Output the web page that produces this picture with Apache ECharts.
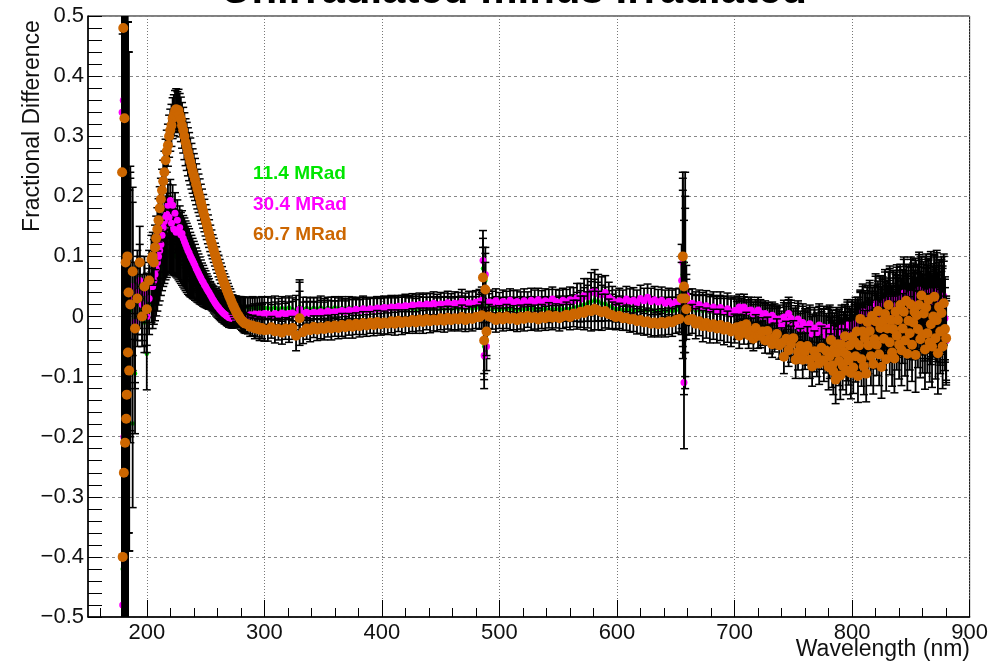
<!DOCTYPE html>
<html>
<head>
<meta charset="utf-8">
<script src="https://cdn.jsdelivr.net/npm/echarts@6/dist/echarts.min.js"></script>
<style>
html, body { margin: 0; padding: 0; background: #fff; }
#chart { width: 991px; height: 664px; }
</style>
</head>
<body>
<div id="chart"></div>
<script>
// wavelength (nm) of each measured point
const wavelength = [
  179, 179.5, 180, 180.5, 181, 181.5, 182, 182.5, 183, 183.5, 184, 184.5, 185,
  186, 188, 190, 192, 194, 196, 198, 200, 202, 204,
  205, 206, 207, 208, 209, 210, 211, 212, 213, 214,
  215, 216, 217, 218, 219, 220, 221, 222, 223, 224,
  225, 226, 227, 228, 229, 230, 231, 232, 233, 234,
  235, 236, 237, 238, 239, 240, 241, 242, 243, 244,
  245, 246, 247, 248, 249, 250, 251, 252, 253, 254,
  255, 256, 257, 258, 259, 260, 261, 262, 263, 264,
  265, 266, 267, 268, 269, 270, 271, 272, 273, 274,
  275, 276, 277, 278, 279, 280, 281, 282, 283, 284,
  286, 288, 290, 292, 294, 296, 298, 300,
  303, 306, 309, 312, 315, 318, 321, 324, 327, 330,
  333, 336, 339, 342, 345, 348, 351, 354, 357, 360,
  363, 366, 369, 372, 375, 378, 381, 384, 387, 390,
  393, 396, 399, 402, 405, 408, 411, 414, 417, 420,
  423, 426, 429, 432, 435, 438, 441, 444, 447, 450,
  453, 456, 459, 462, 465, 468, 471, 474, 477, 480,
  483, 485, 486, 487, 488, 489, 491,
  494, 497, 500, 503, 506, 509, 512, 515, 518, 521,
  524, 527, 530, 533, 536, 539, 542, 545, 548, 551,
  554, 557, 560, 563, 566, 569, 572, 575, 578, 581,
  584, 587, 590, 593, 596, 599, 602, 605, 608, 611,
  614, 617, 620, 623, 626, 629, 632, 635, 638, 641,
  644, 647, 650,
  653, 655, 656, 657, 658, 659, 661,
  664, 667, 670, 673, 676, 679, 682, 685, 688, 691, 694, 697, 700,
  702, 704, 706, 708, 710, 712, 714, 716, 718, 720,
  722, 724, 726, 728, 730, 732, 734, 736, 738, 740,
  742, 744, 746, 748, 750, 752, 754, 756, 758, 760,
  762, 764, 766, 768, 770, 772, 774, 776, 778, 780,
  781, 782, 783, 784, 785, 786, 787, 788, 789, 790,
  791, 792, 793, 794, 795, 796, 797, 798, 799, 800,
  801, 802, 803, 804, 805, 806, 807, 808, 809, 810,
  811, 812, 813, 814, 815, 816, 817, 818, 819, 820,
  821, 822, 823, 824, 825, 826, 827, 828, 829, 830,
  831, 832, 833, 834, 835, 836, 837, 838, 839, 840,
  841, 842, 843, 844, 845, 846, 847, 848, 849, 850,
  851, 852, 853, 854, 855, 856, 857, 858, 859, 860,
  861, 862, 863, 864, 865, 866, 867, 868, 869, 870,
  871, 872, 873, 874, 875, 876, 877, 878, 879, 880
];

// 11.4 MRad
const diff11 = [
  0.24, -0.42, 0.48, -0.26, 0.33, -0.21, 0.09, -0.17, -0.13, 0.10, -0.06, 0.04, -0.09,
  0.01, -0.178, -0.095, 0.02, 0.04, 0.01, -0.01, -0.062, 0.02, 0.03,
  0.02, 0.025, 0.03, 0.038, 0.045, 0.055, 0.062, 0.07, 0.078, 0.085,
  0.09, 0.096, 0.1, 0.104, 0.108, 0.11, 0.108, 0.106, 0.104, 0.102,
  0.1, 0.098, 0.096, 0.094, 0.092, 0.09, 0.087, 0.085, 0.082, 0.08,
  0.077, 0.075, 0.072, 0.07, 0.067, 0.065, 0.062, 0.06, 0.057, 0.055,
  0.052, 0.05, 0.048, 0.045, 0.043, 0.041, 0.039, 0.037, 0.035, 0.034,
  0.032, 0.031, 0.03, 0.028, 0.027, 0.026, 0.025, 0.024, 0.023, 0.022,
  0.022, 0.021, 0.021, 0.02, 0.02, 0.019, 0.019, 0.019, 0.018, 0.018,
  0.018, 0.018, 0.017, 0.017, 0.017, 0.017, 0.016, 0.016, 0.016, 0.016,
  0.016, 0.015, 0.016, 0.014, 0.015, 0.014, 0.015, 0.014,
  0.014, 0.013, 0.015, 0.012, 0.014, 0.013, 0.015, 0.012, 0.01, 0.016,
  0.013, 0.014, 0.012, 0.014, 0.013, 0.015, 0.012, 0.014, 0.013, 0.015,
  0.013, 0.014, 0.012, 0.015, 0.013, 0.014, 0.013, 0.015, 0.013, 0.014,
  0.013, 0.014, 0.012, 0.014, 0.013, 0.014, 0.012, 0.014, 0.013, 0.014,
  0.013, 0.014, 0.012, 0.014, 0.013, 0.014, 0.013, 0.014, 0.013, 0.014,
  0.013, 0.014, 0.013, 0.014, 0.013, 0.014, 0.013, 0.014, 0.013, 0.014,
  0.017, 0.018, 0.08, -0.05, 0.06, -0.03, 0.018,
  0.012, 0.013, 0.011, 0.013, 0.012, 0.013, 0.012, 0.011, 0.013, 0.012,
  0.012, 0.013, 0.012, 0.013, 0.012, 0.013, 0.011, 0.013, 0.012, 0.013,
  0.012, 0.013, 0.013, 0.014, 0.016, 0.017, 0.02, 0.022, 0.025, 0.027,
  0.025, 0.022, 0.021, 0.018, 0.015, 0.012, 0.013, 0.011, 0.012, 0.011,
  0.011, 0.01, 0.011, 0.01, 0.01, 0.011, 0.009, 0.01, 0.01, 0.009,
  0.01, 0.009, 0.01,
  0.014, 0.04, 0.07, -0.02, 0.09, 0.02, 0.013,
  0.013, 0.01, 0.012, 0.009, 0.011, 0.007, 0.01, 0.006, 0.009, 0.005, 0.008, 0.004, 0.007,
  0.005, 0.012, 0.007, 0.012, 0.004, 0.006, 0.007, 0.0, 0.002, 0.007,
  0.002, -0.004, 0.001, -0.004, -0.01, -0.002, -0.007, -0.012, -0.008, -0.02,
  -0.005, -0.012, 0.001, -0.007, -0.02, -0.017, -0.008, -0.024, -0.014, -0.021,
  -0.025, -0.016, -0.033, -0.023, -0.031, -0.018, -0.028, -0.022, -0.036, -0.026,
  -0.022, -0.044, -0.031, -0.05, -0.037, -0.055, -0.028, -0.042, -0.033, -0.048,
  -0.023, -0.049, -0.036, -0.025, -0.042, -0.018, -0.048, -0.029, -0.036, -0.018,
  -0.044, -0.024, -0.015, -0.05, -0.016, -0.027, -0.006, -0.033, 0.004, -0.027,
  -0.007, -0.036, 0.0, -0.02, 0.008, -0.026, -0.01, -0.028, -0.001, 0.017,
  -0.016, 0.0, -0.027, 0.013, -0.007, 0.009, -0.017, 0.02, -0.001, -0.008,
  0.005, 0.026, -0.004, -0.011, 0.018, -0.019, 0.014, 0.025, 0.006, -0.011,
  0.025, 0.0, 0.016, 0.035, -0.007, 0.012, 0.006, 0.023, -0.01, 0.033,
  0.002, 0.023, 0.01, 0.031, -0.006, 0.019, 0.04, 0.007, 0.03, 0.0,
  0.022, -0.008, 0.035, 0.015, 0.026, 0.005, 0.037, -0.003, 0.017, 0.031,
  0.01, 0.037, 0.001, 0.021, -0.011, 0.026, 0.01, 0.03, -0.007, -0.044
];

// 30.4 MRad
const diff30 = [
  0.34, -0.48, 0.36, -0.2, 0.33, -0.21, 0.09, -0.17, -0.13, 0.10, -0.06, 0.04, -0.09,
  0.03, 0.05, -0.01, 0.04, 0.06, 0.02, 0.04, 0.0, 0.03, 0.05,
  0.05, 0.06, 0.07, 0.08, 0.09, 0.10, 0.11, 0.12, 0.135, 0.148,
  0.158, 0.165, 0.17, 0.185, 0.165, 0.193, 0.155, 0.185, 0.145, 0.172,
  0.14, 0.16, 0.142, 0.148, 0.136, 0.138, 0.13, 0.125, 0.12, 0.115,
  0.11, 0.106, 0.101, 0.097, 0.093, 0.089, 0.085, 0.08, 0.076, 0.072,
  0.068, 0.064, 0.06, 0.057, 0.053, 0.05, 0.046, 0.043, 0.04, 0.036,
  0.033, 0.029, 0.026, 0.023, 0.02, 0.017, 0.015, 0.012, 0.01, 0.008,
  0.006, 0.004, 0.003, 0.001, 0.0, -0.002, -0.002, -0.003, -0.003, -0.003,
  -0.002, -0.002, -0.002, -0.001, -0.001, -0.001, 0.0, 0.0, 0.0, 0.001,
  0.001, 0.003, 0.001, 0.004, 0.002, 0.004, 0.002, 0.005,
  0.004, 0.002, 0.005, 0.003, 0.006, 0.004, 0.005, 0.006, 0.003, 0.012,
  0.005, 0.007, 0.005, 0.007, 0.006, 0.008, 0.006, 0.009, 0.007, 0.008,
  0.008, 0.01, 0.008, 0.011, 0.009, 0.012, 0.01, 0.013, 0.011, 0.013,
  0.012, 0.014, 0.013, 0.015, 0.014, 0.016, 0.015, 0.017, 0.016, 0.018,
  0.017, 0.019, 0.018, 0.02, 0.018, 0.021, 0.019, 0.022, 0.019, 0.021,
  0.02, 0.023, 0.02, 0.022, 0.021, 0.025, 0.02, 0.023, 0.021, 0.024,
  0.025, 0.027, 0.093, -0.065, 0.07, -0.05, 0.024,
  0.023, 0.026, 0.021, 0.025, 0.022, 0.027, 0.023, 0.025, 0.021, 0.026,
  0.022, 0.027, 0.024, 0.028, 0.023, 0.026, 0.024, 0.029, 0.025, 0.023,
  0.027, 0.024, 0.028, 0.026, 0.031, 0.029, 0.035, 0.033, 0.04, 0.043,
  0.038, 0.036, 0.04, 0.032, 0.028, 0.023, 0.026, 0.024, 0.029, 0.025,
  0.027, 0.023, 0.03, 0.026, 0.032, 0.025, 0.028, 0.024, 0.027, 0.022,
  0.025, 0.021, 0.024,
  0.025, 0.06, 0.09, -0.11, 0.05, 0.035, 0.02,
  0.022, 0.016, 0.02, 0.014, 0.018, 0.011, 0.016, 0.009, 0.015, 0.008, 0.013, 0.006, 0.01,
  0.009, 0.016, 0.011, 0.016, 0.008, 0.01, 0.011, 0.004, 0.006, 0.011,
  0.006, 0.0, 0.005, 0.0, -0.006, 0.002, -0.003, -0.008, -0.004, -0.016,
  -0.001, -0.008, 0.005, -0.003, -0.016, -0.013, -0.004, -0.02, -0.01, -0.017,
  -0.021, -0.012, -0.029, -0.019, -0.027, -0.014, -0.024, -0.018, -0.032, -0.022,
  -0.018, -0.04, -0.027, -0.046, -0.033, -0.051, -0.024, -0.038, -0.029, -0.044,
  -0.019, -0.045, -0.032, -0.021, -0.038, -0.014, -0.044, -0.025, -0.032, -0.014,
  -0.04, -0.02, -0.011, -0.046, -0.012, -0.023, -0.002, -0.029, 0.008, -0.023,
  -0.003, -0.032, 0.004, -0.016, 0.012, -0.022, -0.006, -0.024, 0.003, 0.021,
  -0.012, 0.004, -0.023, 0.017, -0.003, 0.013, -0.013, 0.024, 0.003, -0.004,
  0.009, 0.03, 0.0, -0.007, 0.022, -0.015, 0.018, 0.029, 0.01, -0.007,
  0.029, 0.004, 0.02, 0.039, -0.003, 0.016, 0.01, 0.027, -0.006, 0.037,
  0.006, 0.027, 0.014, 0.035, -0.002, 0.023, 0.044, 0.011, 0.034, 0.004,
  0.026, -0.004, 0.039, 0.019, 0.03, 0.009, 0.041, 0.001, 0.021, 0.035,
  0.014, 0.041, 0.005, 0.025, -0.007, 0.03, 0.014, 0.034, -0.003, -0.04
];

// 60.7 MRad
const diff60 = [
  0.24, -0.40, 0.48, -0.26, 0.33, -0.21, 0.09, -0.17, -0.13, 0.10, -0.06, 0.04, -0.09,
  0.02, 0.075, -0.02, 0.03, 0.09, 0.0, 0.05, 0.012, 0.06, 0.095,
  0.10, 0.09, 0.115, 0.13, 0.145, 0.16, 0.18, 0.195, 0.21, 0.225,
  0.24, 0.26, 0.275, 0.285, 0.30, 0.31, 0.318, 0.33, 0.335, 0.342,
  0.345, 0.34, 0.343, 0.335, 0.328, 0.318, 0.31, 0.30, 0.29, 0.283,
  0.274, 0.266, 0.258, 0.25, 0.242, 0.235, 0.228, 0.22, 0.212, 0.205,
  0.198, 0.19, 0.183, 0.175, 0.168, 0.16, 0.153, 0.145, 0.138, 0.13,
  0.123, 0.116, 0.11, 0.103, 0.097, 0.09, 0.084, 0.078, 0.072, 0.066,
  0.06, 0.055, 0.05, 0.044, 0.039, 0.034, 0.03, 0.025, 0.02, 0.016,
  0.012, 0.008, 0.004, 0.001, -0.002, -0.005, -0.007, -0.009, -0.011, -0.012,
  -0.013, -0.017, -0.015, -0.02, -0.017, -0.022, -0.019, -0.023,
  -0.022, -0.018, -0.025, -0.021, -0.027, -0.02, -0.024, -0.019, -0.032, -0.003,
  -0.026, -0.02, -0.023, -0.017, -0.022, -0.018, -0.021, -0.016, -0.02, -0.015,
  -0.019, -0.014, -0.018, -0.013, -0.017, -0.012, -0.016, -0.011, -0.015, -0.01,
  -0.014, -0.009, -0.013, -0.01, -0.012, -0.008, -0.012, -0.007, -0.011, -0.008,
  -0.01, -0.006, -0.01, -0.005, -0.009, -0.004, -0.008, -0.005, -0.007, -0.003,
  -0.007, -0.002, -0.006, -0.003, -0.005, -0.001, -0.006, -0.002, -0.004, -0.001,
  -0.001, 0.002, 0.065, -0.04, 0.045, -0.025, 0.0,
  -0.002, -0.006, -0.001, -0.005, 0.0, -0.004, -0.002, -0.006, -0.001, -0.004,
  0.001, -0.003, -0.001, -0.005, 0.0, -0.003, 0.002, -0.002, 0.001, -0.003,
  0.0, 0.003, -0.001, 0.005, 0.003, 0.008, 0.006, 0.011, 0.009, 0.013,
  0.01, 0.007, 0.009, 0.004, 0.002, -0.001, 0.001, -0.003, -0.002, -0.005,
  -0.004, -0.008, -0.006, -0.01, -0.008, -0.012, -0.01, -0.013, -0.009, -0.012,
  -0.008, -0.01, -0.006,
  -0.004, 0.03, 0.10, 0.05, 0.03, 0.012, -0.006,
  -0.004, -0.012, -0.008, -0.016, -0.011, -0.018, -0.013, -0.02, -0.014, -0.022, -0.017, -0.025, -0.02,
  -0.018, -0.032, -0.016, -0.025, -0.013, -0.031, -0.024, -0.037, -0.019, -0.032,
  -0.03, -0.025, -0.04, -0.024, -0.038, -0.046, -0.035, -0.029, -0.048, -0.044,
  -0.067, -0.037, -0.056, -0.046, -0.036, -0.072, -0.059, -0.049, -0.072, -0.058,
  -0.049, -0.072, -0.083, -0.058, -0.067, -0.078, -0.052, -0.073, -0.057, -0.084,
  -0.066, -0.039, -0.081, -0.091, -0.053, -0.105, -0.06, -0.046, -0.074, -0.098,
  -0.047, -0.082, -0.06, -0.033, -0.09, -0.065, -0.073, -0.048, -0.094, -0.034,
  -0.085, -0.042, -0.066, -0.025, -0.099, -0.048, -0.004, -0.071, -0.025, -0.083,
  -0.036, -0.095, -0.009, -0.048, -0.024, -0.066, 0.001, -0.079, -0.038, -0.008,
  -0.047, 0.009, -0.063, -0.019, -0.084, -0.008, -0.037, 0.004, -0.071, -0.02,
  0.019, -0.043, -0.006, -0.06, -0.021, -0.07, 0.008, -0.032, -0.006, -0.047,
  0.019, -0.056, -0.02, 0.008, -0.04, 0.026, -0.062, -0.007, -0.028, 0.02,
  -0.047, -0.01, 0.008, -0.064, 0.002, -0.021, 0.019, -0.038, 0.035, -0.03,
  0.005, -0.055, 0.015, -0.028, 0.028, -0.043, -0.013, -0.05, 0.0, 0.033,
  -0.036, -0.006, -0.061, 0.016, -0.025, 0.006, -0.05, 0.022, -0.021, -0.036
];

// uncertainty on each point (shared by the three doses)
const errs = [
  0.9, 0.95, 1.0, 1.0, 0.95, 0.9, 0.85, 0.8, 0.75, 0.65, 0.55, 0.4, 0.3,
  0.22, 0.14, 0.1, 0.07, 0.06, 0.05, 0.05, 0.06, 0.05, 0.04,
  0.04, 0.038, 0.037, 0.037, 0.036, 0.036, 0.036, 0.035, 0.035, 0.035,
  0.035, 0.035, 0.035, 0.035, 0.035, 0.035, 0.035, 0.034, 0.034, 0.034,
  0.034, 0.034, 0.035, 0.036, 0.037, 0.038, 0.038, 0.039, 0.039, 0.04,
  0.04, 0.04, 0.039, 0.038, 0.037, 0.036, 0.035, 0.034, 0.033, 0.032,
  0.031, 0.03, 0.029, 0.028, 0.027, 0.026, 0.025, 0.024, 0.023, 0.022,
  0.021, 0.02, 0.02, 0.019, 0.019, 0.018, 0.018, 0.017, 0.017, 0.017,
  0.016, 0.016, 0.016, 0.016, 0.016, 0.016, 0.016, 0.016, 0.016, 0.016,
  0.016, 0.016, 0.016, 0.016, 0.016, 0.016, 0.016, 0.016, 0.016, 0.016,
  0.016, 0.016, 0.017, 0.017, 0.017, 0.018, 0.018, 0.018,
  0.019, 0.018, 0.019, 0.018, 0.019, 0.018, 0.019, 0.019, 0.025, 0.045,
  0.019, 0.018, 0.019, 0.018, 0.018, 0.019, 0.018, 0.018, 0.019, 0.018,
  0.018, 0.019, 0.018, 0.018, 0.019, 0.018, 0.018, 0.019, 0.018, 0.018,
  0.018, 0.019, 0.018, 0.019, 0.018, 0.019, 0.019, 0.018, 0.019, 0.019,
  0.018, 0.019, 0.018, 0.019, 0.019, 0.018, 0.019, 0.019, 0.018, 0.019,
  0.019, 0.019, 0.018, 0.019, 0.019, 0.02, 0.019, 0.019, 0.02, 0.019,
  0.02, 0.022, 0.05, 0.055, 0.045, 0.04, 0.02,
  0.019, 0.02, 0.019, 0.019, 0.02, 0.019, 0.02, 0.019, 0.02, 0.02,
  0.019, 0.02, 0.02, 0.019, 0.02, 0.02, 0.021, 0.02, 0.02, 0.021,
  0.02, 0.021, 0.021, 0.022, 0.024, 0.026, 0.028, 0.03, 0.033, 0.035,
  0.032, 0.03, 0.028, 0.025, 0.022, 0.021, 0.021, 0.02, 0.021, 0.021,
  0.021, 0.021, 0.022, 0.021, 0.022, 0.022, 0.022, 0.021, 0.022, 0.022,
  0.022, 0.023, 0.022,
  0.022, 0.06, 0.14, 0.11, 0.15, 0.05, 0.025,
  0.024, 0.025, 0.024, 0.026, 0.025, 0.026, 0.025, 0.024, 0.026, 0.025, 0.026, 0.025, 0.024,
  0.02, 0.021, 0.019, 0.021, 0.02, 0.022, 0.021, 0.02, 0.022, 0.021,
  0.022, 0.023, 0.021, 0.023, 0.024, 0.022, 0.024, 0.025, 0.023, 0.025,
  0.028, 0.029, 0.027, 0.03, 0.029, 0.031, 0.03, 0.029, 0.031, 0.03,
  0.032, 0.031, 0.033, 0.034, 0.033, 0.035, 0.036, 0.035, 0.037, 0.038,
  0.037, 0.038, 0.037, 0.039, 0.038, 0.04, 0.039, 0.04, 0.041, 0.04,
  0.038, 0.04, 0.039, 0.041, 0.04, 0.042, 0.041, 0.042, 0.043, 0.042,
  0.043, 0.044, 0.043, 0.045, 0.044, 0.045, 0.046, 0.045, 0.046, 0.047,
  0.046, 0.047, 0.048, 0.047, 0.048, 0.049, 0.048, 0.05, 0.049, 0.05,
  0.051, 0.05, 0.052, 0.051, 0.052, 0.053, 0.052, 0.054, 0.053, 0.054,
  0.055, 0.054, 0.055, 0.056, 0.055, 0.057, 0.056, 0.057, 0.058, 0.057,
  0.058, 0.059, 0.058, 0.06, 0.059, 0.06, 0.061, 0.06, 0.061, 0.062,
  0.061, 0.062, 0.063, 0.062, 0.063, 0.064, 0.063, 0.064, 0.065, 0.064,
  0.065, 0.066, 0.065, 0.066, 0.067, 0.066, 0.067, 0.068, 0.067, 0.068,
  0.068, 0.069, 0.068, 0.069, 0.07, 0.069, 0.07, 0.07, 0.069, 0.07
];

const xMajorTicks = [200, 300, 400, 500, 600, 700, 800, 900];
const xMinorTicks = [160, 180, 220, 240, 260, 280, 320, 340, 360, 380, 420, 440, 460, 480,
  520, 540, 560, 580, 620, 640, 660, 680, 720, 740, 760, 780, 820, 840, 860, 880];

// errorsOver: the dense black bars of this graph end up over its own (small) markers
const doses = [
  { name: '11.4 MRad', values: diff11, color: '#00e600', size: 4.5, errorsOver: true },
  { name: '30.4 MRad', values: diff30, color: '#ff00ff', size: 7, errorsOver: false },
  { name: '60.7 MRad', values: diff60, color: '#cc6600', size: 10, errorsOver: false }
];

const FONT = '"Liberation Sans", Arial, Helvetica, sans-serif';

function points(vals) {
  const n = Math.min(wavelength.length, vals.length, errs.length);
  const out = [];
  for (let i = 0; i < n; i++) out.push([wavelength[i], vals[i], errs[i]]);
  return out;
}

// black vertical error bar with small caps, clipped to the plot frame
function renderError(params, api) {
  const x = api.value(0), y = api.value(1), e = api.value(2);
  const cs = params.coordSys;
  const top = api.coord([x, y + e]);
  const bot = api.coord([x, y - e]);
  const yMin = cs.y, yMax = cs.y + cs.height;
  const t = Math.max(top[1], yMin);
  const b = Math.min(bot[1], yMax);
  const cx = top[0];
  const st = { stroke: '#000', lineWidth: 1.8 };
  const cap = { stroke: '#000', lineWidth: 1.5 };
  const children = [{ type: 'line', shape: { x1: cx, y1: t, x2: cx, y2: b }, style: st }];
  if (top[1] >= yMin) children.push({ type: 'line', shape: { x1: cx - 4, y1: top[1], x2: cx + 4, y2: top[1] }, style: cap });
  if (bot[1] <= yMax) children.push({ type: 'line', shape: { x1: cx - 4, y1: bot[1], x2: cx + 4, y2: bot[1] }, style: cap });
  return { type: 'group', children: children };
}

// explicit z keeps the drawing order: each dose on top of the previous one
const series = [];
doses.forEach(function (d, k) {
  const data = points(d.values);
  const base = 2 + k * 2;
  const bars = {
    type: 'custom',
    name: d.name + ' err',
    data: data,
    encode: { x: 0, y: 1 },
    renderItem: renderError,
    z: d.errorsOver ? base + 1 : base,
    silent: true,
    animation: false
  };
  const marks = {
    type: 'scatter',
    name: d.name,
    data: data.map(function (p) { return [p[0], p[1]]; }),
    symbol: 'circle',
    symbolSize: d.size,
    itemStyle: { color: d.color, opacity: 1 },
    z: d.errorsOver ? base : base + 1,
    silent: true,
    animation: false
  };
  series.push(bars, marks);
});

const chart = echarts.init(document.getElementById('chart'), null, { renderer: 'canvas' });
chart.setOption({
  animation: false,
  backgroundColor: '#fff',
  grid: {
    left: 88, right: 19, top: 16, bottom: 47,
    show: true, borderColor: '#000', borderWidth: 1, backgroundColor: 'transparent'
  },
  xAxis: [
    {
      type: 'value', min: 150, max: 900, splitNumber: 8,
      axisLine: { show: true, onZero: false, lineStyle: { color: '#000', width: 1.5 } },
      axisTick: { show: true, inside: true, length: 17, customValues: xMajorTicks, lineStyle: { color: '#000' } },
      axisLabel: { customValues: xMajorTicks, margin: 5, fontSize: 22, color: '#111', fontFamily: FONT },
      splitLine: { show: true, lineStyle: { color: '#777', type: [1, 2], width: 1 } }
    },
    {
      type: 'value', position: 'bottom', min: 150, max: 900, splitNumber: 8,
      axisLine: { show: false, onZero: false },
      axisLabel: { show: false },
      splitLine: { show: false },
      axisTick: { show: true, inside: true, length: 9, customValues: xMinorTicks, lineStyle: { color: '#000' } }
    }
  ],
  yAxis: {
    type: 'value', min: -0.5, max: 0.5, interval: 0.1,
    axisLine: { show: true, lineStyle: { color: '#000', width: 1.5 } },
    axisTick: { show: true, inside: true, length: 14, lineStyle: { color: '#000' } },
    minorTick: { show: true, splitNumber: 5, length: 14, lineStyle: { color: '#000' } },
    axisLabel: {
      margin: 4, fontSize: 22, color: '#111', fontFamily: FONT,
      formatter: function (v) {
        const r = Math.round(v * 10) / 10;
        return String(r === 0 ? 0 : r).replace('-', '\u2212');
      }
    },
    splitLine: { show: true, lineStyle: { color: '#888', type: [3, 3], width: 1 } }
  },
  graphic: [
    {
      type: 'text', x: 514, y: -9, silent: true,
      style: { text: 'Unirradiated minus Irradiated', font: 'bold 42px ' + FONT, fill: '#000', align: 'center', verticalAlign: 'middle' }
    },
    {
      type: 'text', x: 33, y: 126, rotation: Math.PI / 2, silent: true,
      style: { text: 'Fractional Difference', font: '23px ' + FONT, fill: '#111', align: 'center', verticalAlign: 'middle' }
    },
    {
      type: 'text', x: 970, y: 650, silent: true,
      style: { text: 'Wavelength (nm)', font: '23px ' + FONT, fill: '#111', align: 'right', verticalAlign: 'middle' }
    },
    {
      type: 'text', x: 253, y: 174, silent: true,
      style: { text: doses[0].name, font: 'bold 19px ' + FONT, fill: doses[0].color, align: 'left', verticalAlign: 'middle' }
    },
    {
      type: 'text', x: 253, y: 205, silent: true,
      style: { text: doses[1].name, font: 'bold 19px ' + FONT, fill: doses[1].color, align: 'left', verticalAlign: 'middle' }
    },
    {
      type: 'text', x: 253, y: 235, silent: true,
      style: { text: doses[2].name, font: 'bold 19px ' + FONT, fill: doses[2].color, align: 'left', verticalAlign: 'middle' }
    }
  ],
  series: series
});
</script>
</body>
</html>
